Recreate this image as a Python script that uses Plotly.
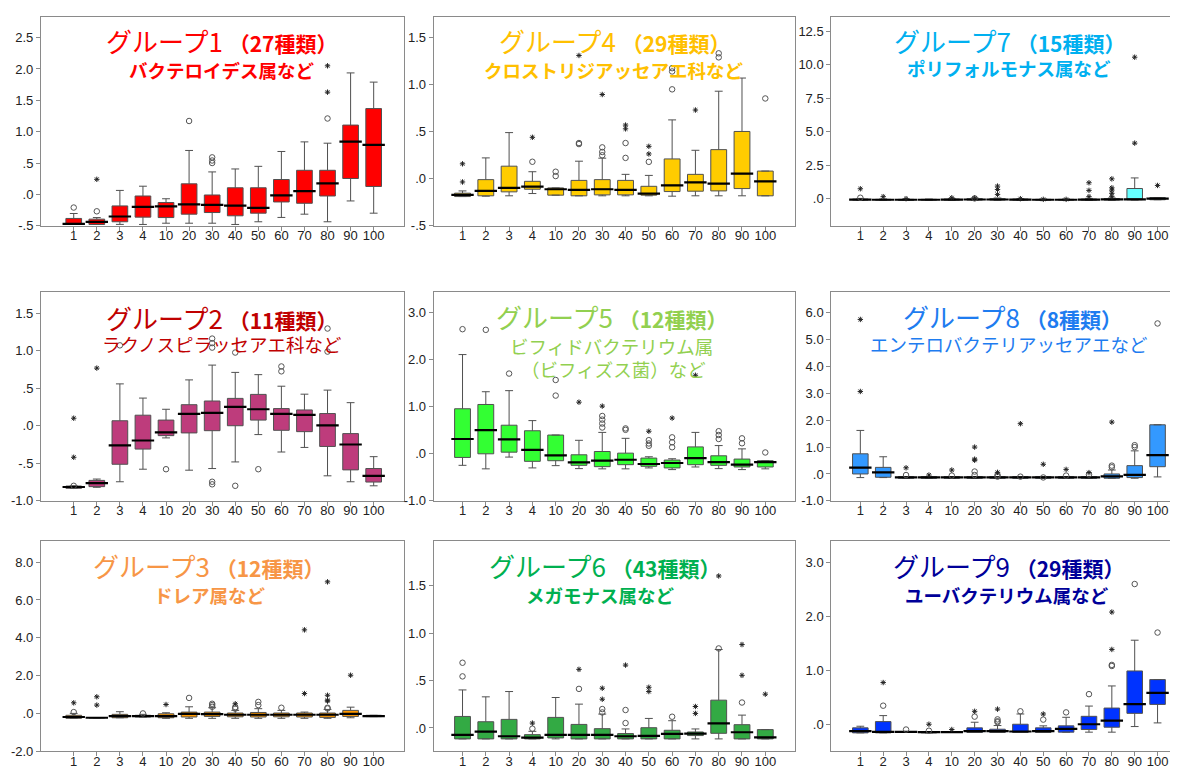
import plotly.graph_objects as go

CATS = ["1", "2", "3", "4", "10", "20", "30", "40", "50", "60", "70", "80", "90", "100"]

# ---------------- Group 1 ----------------
G1_Q1 = [-0.479, -0.48, -0.437, -0.363, -0.37, -0.316, -0.29, -0.342, -0.30, -0.121, -0.142, -0.026, 0.253, 0.126]
G1_MED = [-0.47, -0.44, -0.353, -0.20, -0.19, -0.158, -0.168, -0.179, -0.216, -0.016, 0.053, 0.174, 0.842, 0.789]
G1_Q3 = [-0.384, -0.395, -0.184, -0.026, -0.13, 0.168, -0.01, 0.105, 0.105, 0.237, 0.384, 0.384, 1.105, 1.368]
G1_LO = [-0.48, -0.48, -0.479, -0.48, -0.46, -0.46, -0.46, -0.48, -0.437, -0.368, -0.316, -0.437, -0.105, -0.30]
G1_HI = [-0.305, -0.37, 0.063, 0.13, -0.07, 0.70, 0.358, 0.405, 0.447, 0.684, 0.837, 0.816, 1.937, 1.79]
G1_CIRC = [("1", -0.21), ("2", -0.27), ("20", 1.17), ("30", 0.59), ("30", 0.54), ("30", 0.50), ("80", 1.21)]
G1_STAR = [("2", 0.24), ("80", 1.63), ("80", 2.05)]

# ---------------- Group 4 ----------------
G4_Q1 = [-0.19, -0.182, -0.14, -0.112, -0.175, -0.182, -0.172, -0.172, -0.175, -0.137, -0.133, -0.13, -0.105, -0.182]
G4_MED = [-0.172, -0.13, -0.098, -0.084, -0.112, -0.119, -0.112, -0.119, -0.158, -0.07, -0.039, -0.053, 0.053, -0.028]
G4_Q3 = [-0.154, -0.01, 0.133, -0.028, -0.098, -0.018, -0.01, -0.018, -0.081, 0.21, 0.046, 0.309, 0.502, 0.081]
G4_LO = [-0.19, -0.186, -0.182, -0.158, -0.175, -0.182, -0.182, -0.182, -0.182, -0.186, -0.182, -0.182, -0.182, -0.182]
G4_HI = [-0.13, 0.221, 0.49, 0.074, -0.098, 0.186, 0.218, 0.046, 0.035, 0.625, 0.302, 0.93, 1.07, 0.081]
G4_CIRC = [("4", 0.18), ("10", 0.074), ("10", 0.028), ("20", 0.379), ("20", 0.368), ("30", 0.333), ("30", 0.284),
           ("30", 0.249), ("40", 0.221), ("40", 0.379), ("50", 0.179), ("60", 0.95), ("60", 1.14), ("60", 1.175),
           ("80", 1.29), ("80", 1.333), ("100", 0.853)]
G4_STAR = [("1", 0.158), ("1", -0.035), ("4", 0.44), ("20", 1.31), ("30", 0.895), ("40", 0.53), ("40", 0.57),
           ("50", 0.344), ("50", 0.263), ("70", 0.73)]

# ---------------- Group 7 ----------------
G7_Q1 = [-0.10, -0.10, -0.12, -0.10, -0.10, -0.10, -0.10, -0.10, -0.10, -0.10, -0.10, -0.10, -0.08, -0.08]
G7_MED = [-0.07, -0.08, -0.08, -0.08, -0.07, -0.06, -0.06, -0.07, -0.08, -0.08, -0.07, -0.05, -0.05, 0.00]
G7_Q3 = [-0.03, -0.05, -0.05, -0.05, -0.03, 0.0, 0.0, -0.03, -0.05, -0.05, -0.03, 0.0, 0.76, 0.08]
G7_LO = [-0.12, -0.12, -0.12, -0.12, -0.12, -0.12, -0.12, -0.12, -0.12, -0.12, -0.12, -0.12, -0.10, -0.08]
G7_HI = [0.02, -0.02, -0.02, -0.03, 0.02, 0.05, 0.05, 0.0, -0.02, -0.02, 0.02, 0.05, 1.55, 0.08]
G7_CIRC = [("1", 0.07), ("20", 0.02)]
G7_STAR = [("1", 0.74), ("2", 0.15), ("3", 0.0), ("10", 0.07), ("20", 0.05), ("30", 0.94), ("30", 0.69), ("30", 0.32),
           ("40", 0.0), ("50", -0.05), ("60", -0.05), ("70", 1.19), ("70", 0.62), ("70", 0.15), ("80", 1.48),
           ("80", 0.81), ("80", 0.64), ("80", 0.40), ("80", 0.15), ("90", 4.15), ("90", 10.57), ("100", 0.99)]

# ---------------- Group 2 ----------------
G2_Q1 = [-0.833, -0.811, -0.513, -0.311, -0.132, -0.096, -0.066, 0.0, 0.075, -0.061, -0.079, -0.276, -0.588, -0.75]
G2_MED = [-0.816, -0.763, -0.263, -0.197, -0.088, 0.158, 0.171, 0.25, 0.219, 0.158, 0.145, 0.004, -0.25, -0.667]
G2_Q3 = [-0.803, -0.728, 0.066, 0.14, 0.075, 0.28, 0.329, 0.364, 0.417, 0.228, 0.21, 0.162, -0.105, -0.57]
G2_LO = [-0.83, -0.82, -0.746, -0.579, -0.162, -0.592, -0.57, -0.482, -0.118, -0.35, -0.289, -0.667, -0.746, -0.80]
G2_HI = [-0.80, -0.71, 0.557, 0.368, 0.219, 0.61, 0.807, 0.71, 0.68, 0.526, 0.42, 0.474, 0.307, -0.412]
G2_CIRC = [("1", -0.80), ("3", 1.07), ("10", -0.579), ("30", 1.16), ("30", 1.10), ("30", 1.04), ("30", -0.746),
           ("30", -0.78), ("40", 0.974), ("40", -0.80), ("50", -0.579), ("60", 0.789), ("60", 0.724),
           ("80", 1.294), ("80", 0.987)]
G2_STAR = [("1", 0.10), ("1", -0.42), ("2", 0.767)]

# ---------------- Group 5 ----------------
G5_Q1 = [-0.077, 0.0, 0.035, -0.16, -0.147, -0.245, -0.273, -0.231, -0.266, -0.30, -0.231, -0.245, -0.28, -0.28]
G5_MED = [0.315, 0.503, 0.308, 0.084, -0.035, -0.182, -0.147, -0.126, -0.217, -0.196, -0.091, -0.175, -0.231, -0.175]
G5_Q3 = [0.958, 1.049, 0.608, 0.49, 0.399, -0.021, 0.049, 0.014, -0.091, -0.133, 0.147, -0.042, -0.112, -0.147]
G5_LO = [-0.245, -0.32, -0.07, -0.30, -0.252, -0.315, -0.32, -0.32, -0.30, -0.336, -0.28, -0.315, -0.336, -0.32]
G5_HI = [2.11, 1.32, 1.343, 0.706, 0.399, 0.287, 0.455, 0.329, -0.063, -0.105, 0.455, 0.175, 0.105, -0.147]
G5_CIRC = [("1", 2.65), ("2", 2.636), ("3", 1.706), ("10", 1.57), ("10", 1.238), ("30", 0.804), ("30", 0.727),
           ("30", 0.643), ("30", 0.559), ("40", 0.54), ("40", 0.51), ("50", 0.29), ("50", 0.22), ("50", 0.17),
           ("60", 0.35), ("60", 0.245), ("60", 0.14), ("80", 0.48), ("80", 0.40), ("80", 0.315), ("90", 0.329),
           ("90", 0.224), ("100", 0.028)]
G5_STAR = [("20", 1.098), ("30", 1.014), ("50", 0.48), ("60", 0.76), ("70", 1.67)]

# ---------------- Group 8 ----------------
G8_Q1 = [0.0, -0.123, -0.16, -0.16, -0.16, -0.16, -0.16, -0.16, -0.16, -0.16, -0.16, -0.16, -0.135, 0.27]
G8_MED = [0.233, 0.06, -0.13, -0.13, -0.13, -0.13, -0.13, -0.13, -0.13, -0.13, -0.13, -0.09, -0.037, 0.70]
G8_Q3 = [0.75, 0.245, -0.10, -0.10, -0.10, -0.10, -0.10, -0.10, -0.10, -0.10, -0.10, 0.0, 0.31, 1.83]
G8_LO = [-0.135, -0.135, -0.16, -0.16, -0.16, -0.16, -0.16, -0.16, -0.16, -0.16, -0.16, -0.16, -0.16, -0.11]
G8_HI = [1.62, 0.64, -0.10, -0.10, -0.10, -0.10, -0.10, -0.10, -0.10, -0.10, -0.10, 0.147, 0.86, 1.83]
G8_CIRC = [("3", -0.04), ("10", -0.06), ("20", 0.09), ("20", -0.04), ("30", -0.04), ("30", -0.10), ("40", -0.10),
           ("50", -0.13), ("60", -0.06), ("70", -0.02), ("80", 0.31), ("80", 0.25), ("90", 1.07), ("90", 1.0),
           ("100", 5.6)]
G8_STAR = [("1", 5.75), ("1", 3.07), ("3", 0.23), ("4", -0.04), ("10", 0.147), ("20", 1.0), ("20", 0.55),
           ("20", 0.51), ("30", 0.06), ("40", 1.87), ("50", 0.36), ("60", 0.17), ("70", 0.05), ("80", 1.93)]

# ---------------- Group 3 ----------------
G3_Q1 = [-0.26, -0.23, -0.23, -0.19, -0.23, -0.19, -0.16, -0.18, -0.19, -0.18, -0.19, -0.21, -0.16, -0.17]
G3_MED = [-0.19, -0.23, -0.14, -0.14, -0.14, -0.02, -0.04, -0.07, -0.07, -0.07, -0.07, -0.07, -0.02, -0.14]
G3_Q3 = [-0.10, -0.23, -0.05, -0.10, -0.02, 0.07, 0.07, 0.02, 0.05, 0.02, 0.02, 0.02, 0.16, -0.10]
G3_LO = [-0.26, -0.23, -0.23, -0.19, -0.26, -0.26, -0.26, -0.26, -0.26, -0.26, -0.26, -0.26, -0.23, -0.17]
G3_HI = [0.0, -0.23, 0.09, -0.05, 0.035, 0.35, 0.30, 0.16, 0.25, 0.16, 0.07, 0.21, 0.33, -0.10]
G3_CIRC = [("1", 0.07), ("4", 0.0), ("20", 0.82), ("30", 0.51), ("30", 0.44), ("30", 0.35), ("40", 0.33),
           ("40", 0.25), ("50", 0.61), ("50", 0.44), ("60", 0.30), ("80", 0.30), ("80", 0.26)]
G3_STAR = [("1", 0.56), ("2", 0.88), ("2", 0.44), ("10", 0.47), ("40", 0.51), ("70", 4.42), ("70", 1.05),
           ("80", 6.96), ("80", 0.96), ("80", 0.70), ("80", 0.65), ("90", 2.02)]

# ---------------- Group 6 ----------------
G6_Q1 = [-0.115, -0.115, -0.115, -0.115, -0.105, -0.115, -0.115, -0.115, -0.115, -0.115, -0.08, -0.056, -0.115, -0.115]
G6_MED = [-0.073, -0.038, -0.087, -0.101, -0.073, -0.073, -0.073, -0.087, -0.084, -0.063, -0.059, 0.049, -0.045, -0.098]
G6_Q3 = [0.122, 0.066, 0.091, -0.07, 0.112, 0.038, -0.007, -0.059, 0.003, -0.024, -0.042, 0.294, 0.035, -0.017]
G6_LO = [-0.115, -0.115, -0.115, -0.115, -0.115, -0.115, -0.115, -0.115, -0.115, -0.115, -0.115, -0.115, -0.115, -0.115]
G6_HI = [0.402, 0.329, 0.385, -0.035, 0.322, 0.252, 0.147, -0.01, 0.101, 0.077, -0.01, 0.829, 0.136, -0.017]
G6_CIRC = [("1", 0.689), ("1", 0.545), ("4", -0.007), ("20", 0.413), ("30", 0.20), ("30", 0.164), ("40", 0.052),
           ("40", 0.19), ("60", 0.119), ("80", 0.84), ("90", 0.269)]
G6_STAR = [("4", 0.052), ("20", 0.619), ("30", 0.42), ("30", 0.304), ("40", 0.664), ("50", 0.43), ("50", 0.385),
           ("70", 0.227), ("70", 0.154), ("80", 1.605), ("90", 0.556), ("90", 0.881), ("100", 0.357)]

# ---------------- Group 9 ----------------
G9_Q1 = [-0.16, -0.16, -0.153, -0.16, -0.153, -0.153, -0.153, -0.153, -0.153, -0.147, -0.098, -0.055, 0.202, 0.368]
G9_MED = [-0.129, -0.141, -0.141, -0.147, -0.147, -0.129, -0.129, -0.135, -0.129, -0.086, 0.0, 0.067, 0.374, 0.583]
G9_Q3 = [-0.067, 0.049, -0.135, -0.135, -0.141, -0.067, -0.092, 0.0, -0.067, -0.03, 0.147, 0.30, 0.988, 0.828]
G9_LO = [-0.16, -0.16, -0.153, -0.16, -0.153, -0.153, -0.153, -0.153, -0.153, -0.147, -0.147, -0.147, -0.043, 0.025]
G9_HI = [-0.037, 0.16, -0.135, -0.135, -0.141, 0.037, -0.024, 0.19, -0.03, 0.129, 0.337, 0.71, 1.558, 0.828]
G9_CIRC = [("2", 0.344), ("3", -0.098), ("4", -0.12), ("20", 0.141), ("30", 0.09), ("30", 0.055), ("30", 0.037),
           ("40", 0.24), ("50", 0.086), ("60", 0.22), ("70", 0.558), ("80", 1.10), ("80", 1.08), ("90", 2.6),
           ("100", 1.7)]
G9_STAR = [("2", 0.773), ("4", 0.0), ("10", -0.098), ("20", 0.24), ("30", 0.28), ("50", 0.19), ("80", 1.387),
           ("80", 2.08)]

# Y tick labels per panel
G1_TICKS = ([-0.5, 0, 0.5, 1.0, 1.5, 2.0, 2.5], ["-.5", ".0", ".5", "1.0", "1.5", "2.0", "2.5"])
G4_TICKS = ([-0.5, 0, 0.5, 1.0, 1.5], ["-.5", ".0", ".5", "1.0", "1.5"])
G7_TICKS = ([0, 2.5, 5, 7.5, 10, 12.5], [".0", "2.5", "5.0", "7.5", "10.0", "12.5"])
G2_TICKS = ([-1.0, -0.5, 0, 0.5, 1.0, 1.5], ["-1.0", "-.5", ".0", ".5", "1.0", "1.5"])
G5_TICKS = ([-1, 0, 1, 2, 3], ["-1.0", ".0", "1.0", "2.0", "3.0"])
G8_TICKS = ([-1, 0, 1, 2, 3, 4, 5, 6], ["-1.0", ".0", "1.0", "2.0", "3.0", "4.0", "5.0", "6.0"])
G3_TICKS = ([-2, 0, 2, 4, 6, 8], ["-2.0", ".0", "2.0", "4.0", "6.0", "8.0"])
G6_TICKS = ([0, 0.5, 1.0, 1.5], [".0", ".5", "1.0", "1.5"])
G9_TICKS = ([0, 1, 2, 3], [".0", "1.0", "2.0", "3.0"])

W, H = 1178, 771
CJK = "Noto Sans CJK JP"

# panel geometry (pixels) : (left, right, top, bottom)
COLS = [(33, 396), (426, 788), (824, 1178)]
ROWS = [(9, 220), (287, 498), (539, 751)]
XRANGES = [[-1.42, 14.3], [-1.24, 14.29], [-1.27, 14.2]]

panels = [
    dict(r=0, c=0, q1=G1_Q1, med=G1_MED, q3=G1_Q3, lo=G1_LO, hi=G1_HI, circ=G1_CIRC, star=G1_STAR, ticks=G1_TICKS,
         yr=[-0.5, 2.83], box="#FF0000", tc="#FF0000", t="グループ1", n="（27種類）", subs=["バクテロイデス属など"],
         tpos=(214, 33), spos=[(214, 63)], bold=True),
    dict(r=0, c=1, q1=G4_Q1, med=G4_MED, q3=G4_Q3, lo=G4_LO, hi=G4_HI, circ=G4_CIRC, star=G4_STAR, ticks=G4_TICKS,
         yr=[-0.5, 1.72], box="#FFCC00", tc="#FFC000", t="グループ4", n="（29種類）", subs=["クロストリジアッセアエ科など"],
         tpos=(607, 33), spos=[(607, 63)], bold=True),
    dict(r=0, c=2, q1=G7_Q1, med=G7_MED, q3=G7_Q3, lo=G7_LO, hi=G7_HI, circ=G7_CIRC, star=G7_STAR, ticks=G7_TICKS,
         yr=[-2.02, 13.58], box="#66FFFF", tc="#00B0F0", t="グループ7", n="（15種類）", subs=["ポリフォルモナス属など"],
         tpos=(1002, 33), spos=[(1002, 61)], bold=True),
    dict(r=1, c=0, q1=G2_Q1, med=G2_MED, q3=G2_Q3, lo=G2_LO, hi=G2_HI, circ=G2_CIRC, star=G2_STAR, ticks=G2_TICKS,
         yr=[-1.0, 1.78], box="#BE3C7C", tc="#C00000", t="グループ2", n="（11種類）", subs=["ラクノスピラッセアエ科など"],
         tpos=(214, 313), spos=[(214, 340)], bold=False),
    dict(r=1, c=1, q1=G5_Q1, med=G5_MED, q3=G5_Q3, lo=G5_LO, hi=G5_HI, circ=G5_CIRC, star=G5_STAR, ticks=G5_TICKS,
         yr=[-1.0, 3.44], box="#33FF33", tc="#92D050", t="グループ5", n="（12種類）",
         subs=["ビフィドバクテリウム属", "（ビフィズス菌）など"],
         tpos=(604, 312), spos=[(604, 342), (606, 365)], bold=False),
    dict(r=1, c=2, q1=G8_Q1, med=G8_MED, q3=G8_Q3, lo=G8_LO, hi=G8_HI, circ=G8_CIRC, star=G8_STAR, ticks=G8_TICKS,
         yr=[-1.0, 6.77], box="#3399FF", tc="#1E7CF0", t="グループ8", n="（8種類）", subs=["エンテロバクテリアッセアエなど"],
         tpos=(1005, 312), spos=[(1002, 340)], bold=False),
    dict(r=2, c=0, q1=G3_Q1, med=G3_MED, q3=G3_Q3, lo=G3_LO, hi=G3_HI, circ=G3_CIRC, star=G3_STAR, ticks=G3_TICKS,
         yr=[-2.0, 9.1], box="#FF9900", tc="#F79646", t="グループ3", n="（12種類）", subs=["ドレア属など"],
         tpos=(201, 563), spos=[(202, 593)], bold=True),
    dict(r=2, c=1, q1=G6_Q1, med=G6_MED, q3=G6_Q3, lo=G6_LO, hi=G6_HI, circ=G6_CIRC, star=G6_STAR, ticks=G6_TICKS,
         yr=[-0.245, 1.97], box="#33AA44", tc="#00B050", t="グループ6", n="（43種類）", subs=["メガモナス属など"],
         tpos=(597, 563), spos=[(593, 593)], bold=True),
    dict(r=2, c=2, q1=G9_Q1, med=G9_MED, q3=G9_Q3, lo=G9_LO, hi=G9_HI, circ=G9_CIRC, star=G9_STAR, ticks=G9_TICKS,
         yr=[-0.5, 3.39], box="#0033FF", tc="#000099", t="グループ9", n="（29種類）", subs=["ユーバクテリウム属など"],
         tpos=(1001, 563), spos=[(1000, 593)], bold=True),
]

fig = go.Figure()
layout = dict(
    width=W, height=H, margin=dict(l=0, r=0, t=0, b=0),
    paper_bgcolor="white", plot_bgcolor="white", showlegend=False,
    font=dict(family="Arial, Liberation Sans", size=13, color="#222"),
    annotations=[],
)

for k, p in enumerate(panels, start=1):
    xa, ya = f"x{k}", f"y{k}"
    left, right = COLS[p["c"]]
    top, bottom = ROWS[p["r"]]
    layout[f"xaxis{k}"] = dict(
        domain=[left / W, min(right / W, 1.0)], anchor=ya,
        type="category", categoryorder="array", categoryarray=CATS,
        range=XRANGES[p["c"]], showline=True, mirror=True, linecolor="#8a8a8a", linewidth=1,
        ticks="outside", ticklen=4, tickcolor="#8a8a8a", showgrid=False, zeroline=False,
        ticklabelstandoff=-6,
        tickfont=dict(size=13, color="#222"), fixedrange=True,
    )
    layout[f"yaxis{k}"] = dict(
        domain=[1 - bottom / H, 1 - top / H], anchor=xa,
        range=p["yr"], tickvals=p["ticks"][0], ticktext=p["ticks"][1],
        showline=True, mirror=True, linecolor="#8a8a8a", linewidth=1,
        ticks="outside", ticklen=4, tickcolor="#8a8a8a", showgrid=False, zeroline=False,
        tickfont=dict(size=13, color="#222"), fixedrange=True,
    )

    fig.add_trace(go.Box(
        x=CATS, q1=p["q1"], median=p["med"], q3=p["q3"],
        lowerfence=p["lo"], upperfence=p["hi"],
        xaxis=xa, yaxis=ya, boxpoints=False, width=0.68, whiskerwidth=0.5,
        fillcolor=p["box"], line=dict(color="#505050", width=1), hoverinfo="skip",
    ))
    # median lines (black, thicker)
    fig.add_trace(go.Scatter(
        x=CATS, y=p["med"], mode="markers", xaxis=xa, yaxis=ya, hoverinfo="skip",
        marker=dict(symbol="line-ew", size=16, color="black", line=dict(color="black", width=2.2)),
    ))
    # outliers: circles
    fig.add_trace(go.Scatter(
        x=[c for c, v in p["circ"]], y=[v for c, v in p["circ"]], mode="markers",
        xaxis=xa, yaxis=ya, hoverinfo="skip",
        marker=dict(symbol="circle-open", size=5.5, color="#555", line=dict(color="#555", width=1)),
    ))
    # extreme outliers: stars
    fig.add_trace(go.Scatter(
        x=[c for c, v in p["star"]], y=[v for c, v in p["star"]], mode="markers",
        xaxis=xa, yaxis=ya, hoverinfo="skip",
        marker=dict(symbol="asterisk-open", size=4.5, color="#222", line=dict(color="#222", width=1)),
    ))

    # titles
    tx, ty = p["tpos"]
    layout["annotations"].append(dict(
        xref="paper", yref="paper", x=tx / W, y=1 - ty / H, xanchor="center", yanchor="middle",
        showarrow=False,
        text=f"{p['t']} <span style='font-size:21px'><b>{p['n']}</b></span>",
        font=dict(family=CJK, size=26, color=p["tc"]),
    ))
    for s, (sx, sy) in zip(p["subs"], p["spos"]):
        txt = f"<b>{s}</b>" if p["bold"] else s
        layout["annotations"].append(dict(
            xref="paper", yref="paper", x=sx / W, y=1 - sy / H, xanchor="center", yanchor="middle",
            showarrow=False, text=txt,
            font=dict(family=CJK, size=18.5, color=p["tc"]),
        ))

fig.update_layout(**layout)
fig.write_html("out.html")
